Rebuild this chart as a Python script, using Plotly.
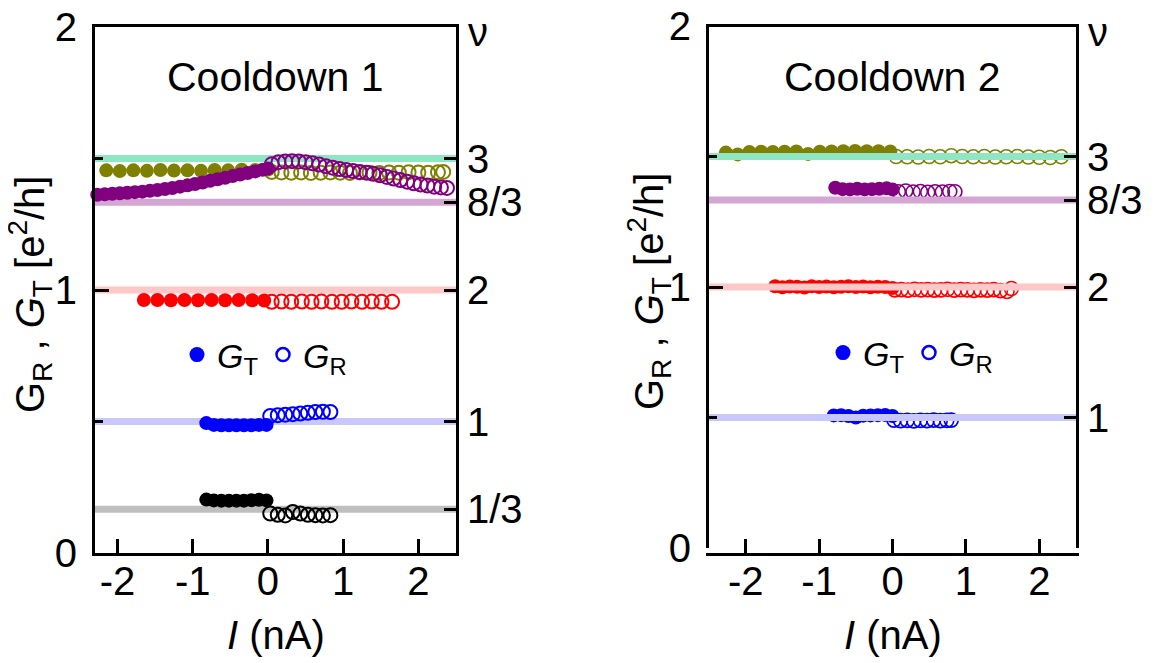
import plotly.graph_objects as go

# ---------------- data ----------------
# filling factors of the reference lines (drawn at G = nu/2 in e^2/h)
nu_c1 = [3, 8/3, 2, 1, 1/3]
nu_c1_labels = ["3", "8/3", "2", "1", "1/3"]
nu_c1_colors = ["#8ee6c3", "#d3a6d3", "#ffc8c8", "#c8c8ff", "#bfbfbf"]
nu_c2 = [3, 8/3, 2, 1]
nu_c2_labels = ["3", "8/3", "2", "1"]
nu_c2_colors = ["#8ee6c3", "#d3a6d3", "#ffc8c8", "#c8c8ff"]

x_ticks = [-2, -1, 0, 1, 2]
x_ticktext = ["-2", "-1", "0", "1", "2"]
y_ticks = [0, 1, 2]
y_minor = [0.5, 1.5]

series_colors = {"olive": "#808000", "purple": "#800080", "red": "#ff0000",
                 "blue": "#0000ff", "black": "#000000"}

# ---- Cooldown 1 ----
c1_olive_gt_i = [-2.15, -1.97, -1.79, -1.61, -1.43, -1.25, -1.07, -0.89, -0.71, -0.53, -0.35, -0.17, 0.00]
c1_olive_gt_g = [1.455, 1.452, 1.455, 1.453, 1.456, 1.454, 1.455, 1.453, 1.456, 1.455, 1.457, 1.456, 1.458]
c1_olive_gr_i = [0.05, 0.18, 0.31, 0.44, 0.57, 0.70, 0.83, 0.96, 1.09, 1.22, 1.35, 1.48, 1.61, 1.74, 1.87, 2.00, 2.13, 2.26, 2.33]
c1_olive_gr_g = [1.449, 1.447, 1.446, 1.447, 1.445, 1.446, 1.447, 1.446, 1.445, 1.447, 1.446, 1.445, 1.447, 1.446, 1.448, 1.447, 1.446, 1.448, 1.449]

c1_purple_gt_i = [-2.27, -2.17, -2.07, -1.97, -1.87, -1.77, -1.67, -1.57, -1.47, -1.37, -1.27, -1.17,
                  -1.07, -0.97, -0.87, -0.77, -0.67, -0.57, -0.47, -0.37, -0.27, -0.17, -0.07, 0.00]
c1_purple_gt_g = [1.362, 1.364, 1.366, 1.368, 1.370, 1.372, 1.374, 1.377, 1.380, 1.384, 1.388, 1.393,
                  1.398, 1.403, 1.409, 1.415, 1.421, 1.427, 1.433, 1.439, 1.445, 1.451, 1.457, 1.462]
c1_purple_gr_i = [0.05, 0.14, 0.23, 0.32, 0.41, 0.50, 0.59, 0.68, 0.77, 0.86, 0.95, 1.04, 1.13, 1.22,
                  1.31, 1.40, 1.49, 1.58, 1.67, 1.76, 1.85, 1.94, 2.03, 2.12, 2.21, 2.30, 2.38]
c1_purple_gr_g = [1.478, 1.486, 1.489, 1.490, 1.489, 1.486, 1.482, 1.477, 1.471, 1.465, 1.460, 1.456, 1.452, 1.449,
                  1.446, 1.442, 1.436, 1.430, 1.424, 1.418, 1.412, 1.406, 1.401, 1.397, 1.393, 1.390, 1.388]

c1_red_gt_i = [-1.65, -1.47, -1.29, -1.11, -0.93, -0.75, -0.57, -0.39, -0.21, -0.05]
c1_red_gt_g = [0.962, 0.962, 0.961, 0.962, 0.961, 0.962, 0.961, 0.962, 0.961, 0.960]
c1_red_gr_i = [0.05, 0.18, 0.31, 0.45, 0.58, 0.71, 0.85, 0.98, 1.11, 1.25, 1.38, 1.51, 1.65]
c1_red_gr_g = [0.955, 0.956, 0.955, 0.956, 0.955, 0.956, 0.955, 0.955, 0.956, 0.955, 0.956, 0.955, 0.955]

c1_blue_gt_i = [-0.82, -0.72, -0.62, -0.52, -0.42, -0.32, -0.22, -0.12, -0.02]
c1_blue_gt_g = [0.494, 0.487, 0.486, 0.486, 0.486, 0.486, 0.486, 0.487, 0.487]
c1_blue_gr_i = [0.03, 0.13, 0.23, 0.33, 0.43, 0.53, 0.63, 0.73, 0.83]
c1_blue_gr_g = [0.521, 0.524, 0.526, 0.528, 0.530, 0.533, 0.536, 0.537, 0.536]

c1_black_gt_i = [-0.82, -0.72, -0.62, -0.52, -0.42, -0.32, -0.22, -0.12, -0.02]
c1_black_gt_g = [0.203, 0.200, 0.199, 0.199, 0.199, 0.199, 0.201, 0.202, 0.200]
c1_black_gr_i = [0.03, 0.13, 0.23, 0.33, 0.43, 0.53, 0.63, 0.73, 0.83]
c1_black_gr_g = [0.150, 0.145, 0.143, 0.156, 0.150, 0.145, 0.144, 0.143, 0.144]

# ---- Cooldown 2 ----
c2_olive_gt_i = [-2.27, -2.11, -1.95, -1.79, -1.63, -1.47, -1.31, -1.15, -0.99, -0.83, -0.67, -0.51, -0.35, -0.19, -0.03]
c2_olive_gt_g = [1.515, 1.508, 1.517, 1.518, 1.517, 1.518, 1.519, 1.510, 1.518, 1.519, 1.520, 1.521, 1.520, 1.520, 1.519]
c2_olive_gr_i = [0.05, 0.20, 0.35, 0.50, 0.65, 0.80, 0.95, 1.10, 1.25, 1.40, 1.55, 1.70, 1.85, 2.00, 2.15, 2.30]
c2_olive_gr_g = [1.500, 1.499, 1.498, 1.500, 1.499, 1.503, 1.500, 1.499, 1.500, 1.498, 1.499, 1.500, 1.498, 1.497, 1.496, 1.499]

c2_purple_gt_i = [-0.78, -0.68, -0.58, -0.48, -0.38, -0.28, -0.18, -0.08, 0.00]
c2_purple_gt_g = [1.380, 1.375, 1.374, 1.376, 1.374, 1.375, 1.376, 1.378, 1.374]
c2_purple_gr_i = [0.08, 0.18, 0.28, 0.38, 0.48, 0.58, 0.68, 0.78, 0.85]
c2_purple_gr_g = [1.365, 1.368, 1.364, 1.366, 1.363, 1.365, 1.364, 1.366, 1.365]

c2_red_gt_i = [-1.60, -1.50, -1.40, -1.30, -1.20, -1.10, -1.00, -0.90, -0.80, -0.70, -0.60, -0.50, -0.40, -0.30, -0.20, -0.10, 0.00]
c2_red_gt_g = [1.003, 0.999, 1.002, 1.001, 0.998, 1.003, 1.000, 1.002, 0.999, 1.001, 1.003, 1.000, 1.002, 0.999, 1.001, 1.000, 0.996]
c2_red_gr_i = [0.03, 0.12, 0.21, 0.30, 0.39, 0.48, 0.57, 0.66, 0.75, 0.84, 0.93, 1.02, 1.11, 1.20, 1.29, 1.38, 1.47, 1.56, 1.62]
c2_red_gr_g = [0.989, 0.990, 0.988, 0.991, 0.989, 0.990, 0.988, 0.989, 0.991, 0.988, 0.990, 0.989, 0.987, 0.989, 0.988, 0.990, 0.986, 0.983, 0.994]

c2_blue_gt_i = [-0.80, -0.70, -0.60, -0.50, -0.40, -0.30, -0.20, -0.10, 0.00]
c2_blue_gt_g = [0.508, 0.509, 0.506, 0.500, 0.507, 0.508, 0.509, 0.510, 0.506]
c2_blue_gr_i = [0.02, 0.11, 0.20, 0.29, 0.38, 0.47, 0.56, 0.65, 0.74, 0.80]
c2_blue_gr_g = [0.490, 0.488, 0.489, 0.487, 0.489, 0.488, 0.490, 0.488, 0.489, 0.490]

x1_range = [-2.3, 2.5]
x2_range = [-2.5, 2.5]
y_range = [0, 2]

# ---------------- figure ----------------
FONT = "Liberation Sans, Arial, sans-serif"
W, H = 1157, 663
OFF = 8  # page body margin


def fx(px):
    return (px - OFF) / W


def fy(px):
    return 1 - (px - OFF) / H


fig = go.Figure()


def add_series(i_vals, g_vals, color, filled, xa, ya, size, lw):
    fig.add_trace(go.Scatter(
        x=i_vals, y=g_vals, mode="markers", xaxis=xa, yaxis=ya, showlegend=False,
        cliponaxis=False,
        marker=dict(symbol="circle" if filled else "circle-open", size=size,
                    color=color, line=dict(width=0 if filled else lw, color=color)),
        hoverinfo="x+y"))


def add_ref_lines(nus, colors, xrange_, xa, ya):
    for nu, col in zip(nus, colors):
        fig.add_trace(go.Scatter(
            x=xrange_, y=[nu / 2, nu / 2], mode="lines", xaxis=xa, yaxis=ya,
            line=dict(color=col, width=7), showlegend=False, hoverinfo="skip"))


# Cooldown 1: reference lines below the data
add_ref_lines(nu_c1, nu_c1_colors, x1_range, "x", "y")
c1 = [
    (c1_olive_gt_i, c1_olive_gt_g, "olive", True), (c1_olive_gr_i, c1_olive_gr_g, "olive", False),
    (c1_purple_gt_i, c1_purple_gt_g, "purple", True), (c1_purple_gr_i, c1_purple_gr_g, "purple", False),
    (c1_red_gt_i, c1_red_gt_g, "red", True), (c1_red_gr_i, c1_red_gr_g, "red", False),
    (c1_blue_gt_i, c1_blue_gt_g, "blue", True), (c1_blue_gr_i, c1_blue_gr_g, "blue", False),
    (c1_black_gt_i, c1_black_gt_g, "black", True), (c1_black_gr_i, c1_black_gr_g, "black", False),
]
for xs, ys, c, f in c1:
    add_series(xs, ys, series_colors[c], f, "x", "y", 14, 2)

# Cooldown 2: data first, reference lines on the overlaying axis (on top)
c2 = [
    (c2_olive_gr_i, c2_olive_gr_g, "olive", False), (c2_olive_gt_i, c2_olive_gt_g, "olive", True),
    (c2_purple_gr_i, c2_purple_gr_g, "purple", False), (c2_purple_gt_i, c2_purple_gt_g, "purple", True),
    (c2_red_gr_i, c2_red_gr_g, "red", False), (c2_red_gt_i, c2_red_gt_g, "red", True),
    (c2_blue_gr_i, c2_blue_gr_g, "blue", False), (c2_blue_gt_i, c2_blue_gt_g, "blue", True),
]
for xs, ys, c, f in c2:
    add_series(xs, ys, series_colors[c], f, "x2", "y2", 14, 1.6)
add_ref_lines(nu_c2, nu_c2_colors, x2_range, "x2", "y4")

# placeholder on the right nu axis of panel 1 so that it is drawn
fig.add_trace(go.Scatter(x=[None], y=[None], xaxis="x", yaxis="y3", showlegend=False, hoverinfo="skip"))

# legend entries
for lg, xa, ya in [("legend", "x", "y"), ("legend2", "x2", "y2")]:
    fig.add_trace(go.Scatter(x=[None], y=[None], mode="markers", xaxis=xa, yaxis=ya,
                             marker=dict(symbol="circle", size=15, color="#0000ff"),
                             name="<i>G</i><sub>T</sub>", legend=lg, showlegend=True))
    fig.add_trace(go.Scatter(x=[None], y=[None], mode="markers", xaxis=xa, yaxis=ya,
                             marker=dict(symbol="circle-open", size=13, color="#0000ff",
                                         line=dict(width=2.5, color="#0000ff")),
                             name="<i>G</i><sub>R</sub>", legend=lg, showlegend=True))

p1 = dict(l=95, r=456, t=27, b=553)
p2 = dict(l=709, r=1076, t=26, b=548)
TICK = 40

common = dict(showgrid=False, zeroline=False, showline=True, linecolor="black", linewidth=3,
              ticks="inside", tickwidth=3, tickcolor="black", ticklabeloverflow="allow",
              tickfont=dict(size=TICK, family=FONT, color="black"))


def xax(p, rng):
    return dict(common, domain=[fx(p["l"]), fx(p["r"])], range=rng, mirror=True,
                tickvals=x_ticks, ticktext=x_ticktext, ticklen=14, ticklabelstandoff=-9)


def yax(p, anchor):
    return dict(common, domain=[fy(p["b"]), fy(p["t"])], range=y_range, anchor=anchor,
                mirror=True, tickvals=y_ticks, ticklen=14, ticklabelstandoff=7,
                minor=dict(tickvals=y_minor, ticks="inside", ticklen=8, tickwidth=3, tickcolor="black"))


def nuax(overlay, anchor, nus, labels):
    return dict(common, overlaying=overlay, anchor=anchor, side="right", range=y_range,
                showline=False, tickvals=[n / 2 for n in nus], ticktext=labels, ticklen=12,
                ticklabelstandoff=10)


legend_common = dict(orientation="h", xanchor="left", yanchor="middle",
                     bgcolor="rgba(0,0,0,0)", font=dict(size=34, family=FONT, color="black"),
                     traceorder="normal", itemsizing="trace")

fig.update_layout(
    width=W, height=H, margin=dict(l=0, r=0, t=0, b=0, autoexpand=False),
    paper_bgcolor="white", plot_bgcolor="white",
    font=dict(family=FONT, color="black", size=TICK),
    xaxis=xax(p1, x1_range), yaxis=yax(p1, "x"),
    xaxis2=xax(p2, x2_range), yaxis2=yax(p2, "x2"),
    yaxis3=nuax("y", "x", nu_c1, nu_c1_labels),
    yaxis4=nuax("y2", "x2", nu_c2, nu_c2_labels),
    legend=dict(legend_common, x=fx(197 - 20), y=fy(355)),
    legend2=dict(legend_common, x=fx(843 - 20), y=fy(353)),
    showlegend=True,
)

ann = []
for p, txt in [(p1, "Cooldown 1"), (p2, "Cooldown 2")]:
    cx = fx((p["l"] + p["r"]) / 2)
    ann.append(dict(text=txt, x=cx, y=fy(77), xref="paper", yref="paper", xanchor="center",
                    yanchor="middle", showarrow=False, font=dict(size=41)))
for px in (478, 1098):
    ann.append(dict(text="ν", x=fx(px), y=fy(32), xref="paper", yref="paper", showarrow=False,
                    xanchor="center", yanchor="middle", font=dict(size=40)))
ytitle = "G<sub>R</sub> , <i>G</i><sub>T</sub> [e<sup>2</sup>/h]"
for px, py in ((30, 295), (649, 292)):
    ann.append(dict(text=ytitle, x=fx(px), y=fy(py), xref="paper", yref="paper", showarrow=False,
                    xanchor="center", yanchor="middle", textangle=-90, font=dict(size=40)))
for p in (p1, p2):
    cx = fx((p["l"] + p["r"]) / 2)
    ann.append(dict(text="<i>I</i> (nA)", x=cx, y=fy(635), xref="paper", yref="paper",
                    xanchor="center", yanchor="middle", showarrow=False, font=dict(size=40)))
fig.update_layout(annotations=ann)

fig.write_html("out.html")
